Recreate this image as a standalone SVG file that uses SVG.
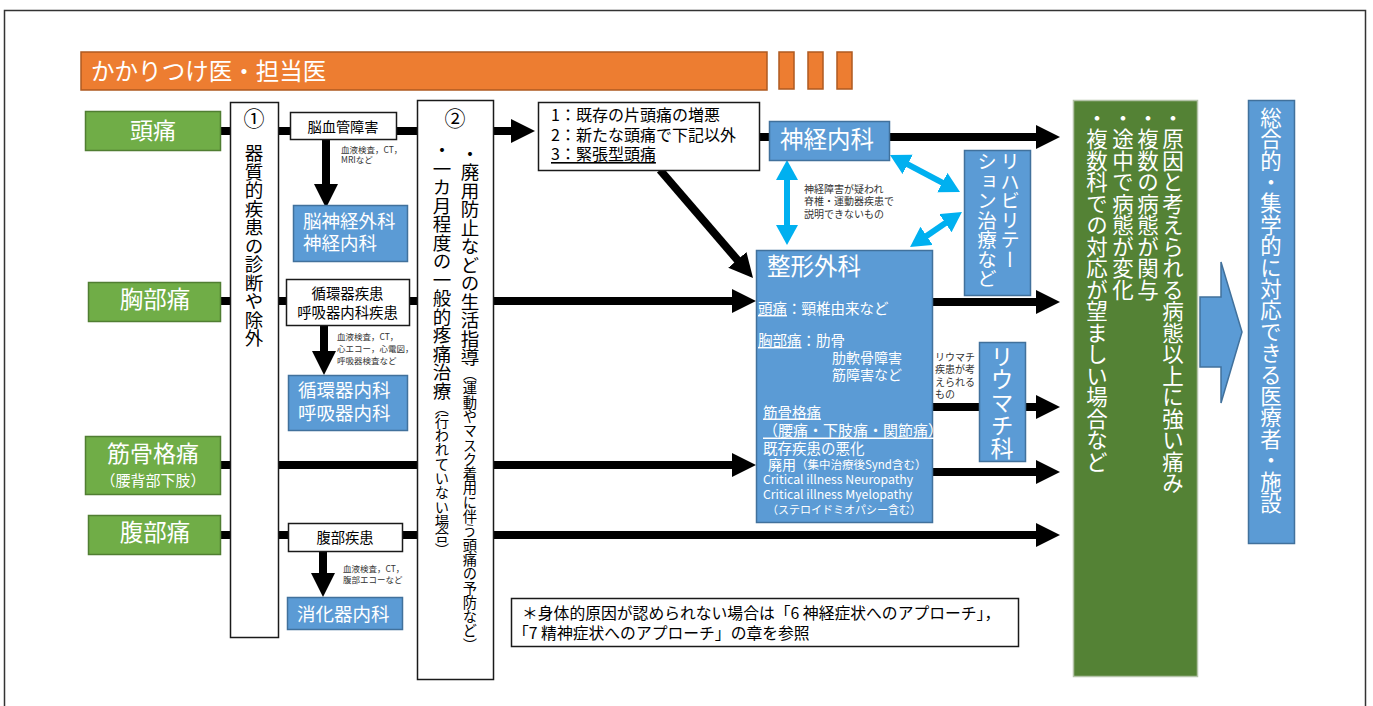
<svg xmlns="http://www.w3.org/2000/svg" width="1373" height="706" viewBox="0 0 1373 706">
<style>
text { font-family: "Noto Sans CJK JP", "Noto Sans", sans-serif; }
.c { dominant-baseline: central; }
.mid { text-anchor: middle; }
.w { fill: #fff; }
.k { fill: #000; }
.g { fill: #333; }
.v { writing-mode: vertical-rl; }
.green { fill: #70AD47; stroke: #507E32; stroke-width: 1.5; }
.dgreen { fill: #548235; stroke: #B4C3A8; stroke-width: 1.5; }
.blue { fill: #5B9BD5; stroke: #41719C; stroke-width: 1.5; }
.box { fill: #fff; stroke: #1a1a1a; stroke-width: 1.5; }
.orange { fill: #ED7D31; stroke: #AE5A21; stroke-width: 1.5; }
.thick { stroke: #000; stroke-width: 8; fill: none; }
.cyan { stroke: #00B0F0; stroke-width: 6; fill: none; }
.u { text-decoration: underline; }
</style>
<defs>
<marker id="ah" markerUnits="userSpaceOnUse" markerWidth="24" markerHeight="24" viewBox="0 0 24 24" refX="1" refY="12" orient="auto"><path d="M0,0 L24,12 L0,24 z" fill="#000"/></marker>
<marker id="ch" markerUnits="userSpaceOnUse" markerWidth="20" markerHeight="22" viewBox="0 0 20 22" refX="1" refY="11" orient="auto-start-reverse"><path d="M0,0 L20,11 L0,22 z" fill="#00B0F0"/></marker>
</defs>

<rect x="0" y="0" width="1373" height="706" fill="#fff"/>
<path d="M4.5,706 V10.5 H1365.5 V706" fill="none" stroke="#333" stroke-width="1.5"/>

<g id="title">
<rect class="orange" x="81" y="52" width="686" height="38"/>
<rect class="orange" x="779" y="52" width="15" height="37"/>
<rect class="orange" x="808" y="52" width="15" height="37"/>
<rect class="orange" x="837" y="52" width="15" height="37"/>
<text class="w c" x="91" y="70" font-size="23.5">かかりつけ医・担当医</text>
</g>

<g id="connectors">
<path class="thick" d="M220,131 H230 M278,131 H290 M396,131 H417 M759,137 H770"/>
<path class="thick" d="M221,301 H230 M278,301 H286 M409,301 H417"/>
<path class="thick" d="M221,465 H230 M278,465 H417"/>
<path class="thick" d="M221,535 H230 M278,535 H288 M402,535 H417"/>
<path class="thick" d="M932,407 H980"/>
<path class="thick" marker-end="url(#ah)" d="M493,131 H512"/>
<path class="thick" marker-end="url(#ah)" d="M889,137 H1037"/>
<path class="thick" marker-end="url(#ah)" d="M660,170 L738,260.6"/>
<path class="thick" marker-end="url(#ah)" d="M493,301 H733"/>
<path class="thick" marker-end="url(#ah)" d="M932,302 H1037"/>
<path class="thick" marker-end="url(#ah)" d="M1025,407 H1037"/>
<path class="thick" marker-end="url(#ah)" d="M493,465 H733"/>
<path class="thick" marker-end="url(#ah)" d="M932,472 H1037"/>
<path class="thick" marker-end="url(#ah)" d="M493,535 H1037"/>
<path class="thick" marker-end="url(#ah)" d="M326,139 V185"/>
<path class="thick" marker-end="url(#ah)" d="M324,325 V352"/>
<path class="thick" marker-end="url(#ah)" d="M323,551 V574"/>
<path class="cyan" marker-start="url(#ch)" marker-end="url(#ch)" d="M787,179 V226"/>
<path class="cyan" marker-start="url(#ch)" marker-end="url(#ch)" d="M906.8,163.9 L943.2,183.1"/>
<path class="cyan" marker-start="url(#ch)" marker-end="url(#ch)" d="M925.8,236.4 L946.2,222.6"/>
<path class="blue" d="M1200,297 H1221 V262 L1242,332 L1221,403 V367 H1200 Z"/>
</g>

<g id="headache">
<rect class="green" x="85.5" y="111.5" width="135" height="39"/>
<text class="w c mid" x="153" y="129" font-size="23">頭痛</text>
</g>
<g id="chest">
<rect class="green" x="88.5" y="282.5" width="132" height="39"/>
<text class="w c mid" x="155" y="298" font-size="23.5">胸部痛</text>
</g>
<g id="musculo">
<rect class="green" x="85.5" y="436.5" width="135" height="58"/>
<text class="w c mid" x="153" y="452" font-size="23">筋骨格痛</text>
<text class="w c mid" x="153" y="479" font-size="15">（腰背部下肢）</text>
</g>
<g id="abdomen">
<rect class="green" x="88.5" y="515.5" width="132" height="39"/>
<text class="w c mid" x="155" y="531" font-size="23.5">腹部痛</text>
</g>

<g id="step1">
<rect class="box" x="230.5" y="102.5" width="48" height="535"/>
<text class="k c mid" x="254" y="117" font-size="21">①</text>
<text class="k v" x="254" y="144" font-size="18.5">器質的疾患の診断や除外</text>
</g>

<g id="step2">
<rect class="box" x="417.5" y="100.5" width="76" height="579"/>
<text class="k c mid" x="455" y="117" font-size="21">②</text>
<text class="k v" x="470" y="144.5" font-size="18.5">・廃用防止などの生活指導<tspan font-size="14.3">（運動やマスク着用に伴う頭痛の予防など）</tspan></text>
<text class="k v" x="442" y="141" font-size="18.5">・一カ月程度の一般的疼痛治療<tspan font-size="14.3">（行われていない場合）</tspan></text>
</g>

<g id="cerebro">
<rect class="box" x="290.5" y="112.5" width="106" height="27"/>
<text class="k c mid" x="343" y="125.5" font-size="14.2">脳血管障害</text>
<text class="g c" x="341" y="149" font-size="8.5">血液検査，CT，</text>
<text class="g c" x="341" y="159" font-size="8.5">MRIなど</text>
</g>
<g id="neurosurg">
<rect class="blue" x="293.5" y="205.5" width="114" height="56"/>
<text class="w c" x="303" y="220" font-size="18.5">脳神経外科</text>
<text class="w c" x="303" y="242" font-size="18.5">神経内科</text>
</g>

<g id="cardio">
<rect class="box" x="286.5" y="279.5" width="123" height="46"/>
<text class="k c mid" x="347.5" y="292" font-size="14.4">循環器疾患</text>
<text class="k c mid" x="347.5" y="311" font-size="14.4">呼吸器内科疾患</text>
<text class="g c" x="337" y="336" font-size="8.5">血液検査，CT，</text>
<text class="g c" x="337" y="348" font-size="8.5">心エコー，心電図，</text>
<text class="g c" x="337" y="360" font-size="8.5">呼吸器検査など</text>
</g>
<g id="cardiodept">
<rect class="blue" x="288.5" y="375.5" width="119" height="55"/>
<text class="w c" x="298" y="389" font-size="18.5">循環器内科</text>
<text class="w c" x="298" y="412" font-size="18.5">呼吸器内科</text>
</g>

<g id="abdo">
<rect class="box" x="288.5" y="523.5" width="114" height="28"/>
<text class="k c mid" x="345" y="536" font-size="14.3">腹部疾患</text>
<text class="g c" x="343" y="568" font-size="8.5">血液検査，CT，</text>
<text class="g c" x="343" y="579" font-size="8.5">腹部エコーなど</text>
</g>
<g id="gastro">
<rect class="blue" x="287.5" y="597.5" width="115" height="32"/>
<text class="w c" x="297" y="613" font-size="18.5">消化器内科</text>
</g>

<g id="headtype">
<rect class="box" x="538.5" y="102.5" width="221" height="68"/>
<text class="k c" x="551" y="114" font-size="16">1：既存の片頭痛の増悪</text>
<text class="k c" x="551" y="134" font-size="16">2：新たな頭痛で下記以外</text>
<text class="k c u" x="551" y="153" font-size="16">3：緊張型頭痛</text>
</g>

<g id="neuro">
<rect class="blue" x="769.5" y="121.5" width="120" height="39"/>
<text class="w c" x="780" y="138" font-size="23.5">神経内科</text>
</g>
<text class="g c" x="804" y="188" font-size="10">神経障害が疑われ</text>
<text class="g c" x="804" y="200.5" font-size="10">脊椎・運動器疾患で</text>
<text class="g c" x="804" y="213" font-size="10">説明できないもの</text>

<g id="rehab">
<rect class="blue" x="964.5" y="150.5" width="66" height="145"/>
<text class="w v" x="1010" y="152" font-size="19.5">リハビリテー</text>
<text class="w v" x="987" y="152" font-size="19.5">ション治療など</text>
</g>

<g id="ortho">
<rect class="blue" x="756.5" y="250.5" width="176" height="272"/>
<text class="w c" x="767" y="265" font-size="23.5">整形外科</text>
<text class="w c" x="758" y="307" font-size="14.5"><tspan class="u">頭痛</tspan>：頸椎由来など</text>
<text class="w c" x="758" y="339" font-size="14.5"><tspan class="u">胸部痛</tspan>：肋骨</text>
<text class="w c" x="832" y="357" font-size="14">肋軟骨障害</text>
<text class="w c" x="832" y="374" font-size="14">筋障害など</text>
<text class="w c u" x="763" y="411" font-size="14.5">筋骨格痛</text>
<text class="w c u" x="763" y="429" font-size="15">（腰痛・下肢痛・関節痛）</text>
<text class="w c" x="763" y="447" font-size="14.5">既存疾患の悪化</text>
<text class="w c" x="768" y="463.5" font-size="14">廃用<tspan font-size="11.5">（集中治療後Synd含む）</tspan></text>
<text class="w c" x="763" y="479" font-size="12.3">Critical illness Neuropathy</text>
<text class="w c" x="763" y="494" font-size="12.3">Critical illness Myelopathy</text>
<text class="w c" x="767" y="509" font-size="11">（ステロイドミオパシー含む）</text>
</g>

<text class="g c" x="935" y="356" font-size="10">リウマチ</text>
<text class="g c" x="935" y="368.5" font-size="10">疾患が考</text>
<text class="g c" x="935" y="381" font-size="10">えられる</text>
<text class="g c" x="935" y="393.5" font-size="10">もの</text>

<g id="rheuma">
<rect class="blue" x="979.5" y="342.5" width="46" height="119"/>
<text class="w v" x="1002" y="345" font-size="23">リウマチ科</text>
</g>

<g id="severe">
<rect class="dgreen" x="1073.5" y="100.5" width="124" height="576"/>
<text class="w v" x="1173" y="107" font-size="21.5">・原因と考えられる病態以上に強い痛み</text>
<text class="w v" x="1148" y="107" font-size="21.5">・複数の病態が関与</text>
<text class="w v" x="1123" y="107" font-size="21.5">・途中で病態が変化</text>
<text class="w v" x="1097" y="107" font-size="21.5">・複数科での対応が望ましい場合など</text>
</g>

<g id="multi">
<rect class="blue" x="1248.5" y="100.5" width="46" height="443"/>
<text class="w v" x="1271" y="107" font-size="21.4">総合的・集学的に対応できる医療者・施設</text>
</g>

<g id="note">
<rect class="box" x="511.5" y="598.5" width="507" height="48"/>
<text class="k c" x="522" y="612" font-size="15.8">＊身体的原因が認められない場合は「6 神経症状へのアプローチ」，</text>
<text class="k c" x="513" y="632" font-size="15.8">「7 精神症状へのアプローチ」の章を参照</text>
</g>
</svg>
